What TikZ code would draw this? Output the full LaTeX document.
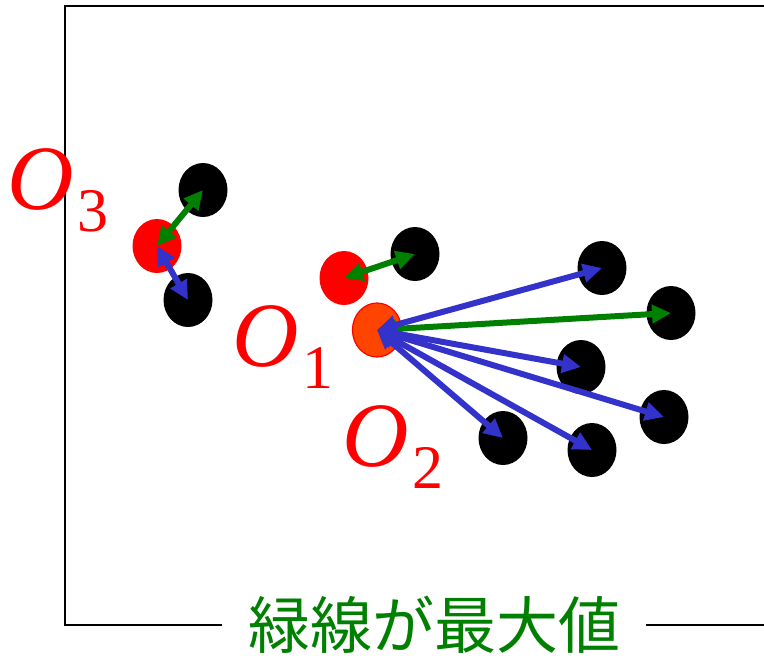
\documentclass[tikz,border=0pt]{standalone}
\usepackage{fontspec}
\setmainfont{Liberation Serif}
\newfontfamily\jpfont{Noto Sans CJK JP}
\newfontfamily\lblfont{Liberation Serif}
\usetikzlibrary{arrows.meta,shapes.geometric}
\definecolor{grn}{RGB}{0,128,0}
\definecolor{blu}{RGB}{51,51,204}
\definecolor{org}{RGB}{255,68,0}
\newcommand{\Olbl}[1]{{\lblfont\fontsize{92}{92}\selectfont\itshape O}\kern4pt\raisebox{-22pt}{\lblfont\fontsize{62}{62}\selectfont #1}}

\begin{document}
\begin{tikzpicture}[x=1pt, y=-1pt, >={Triangle[length=19pt,width=18pt]},
  dot/.style={ellipse, fill=black, minimum width=49pt, minimum height=54pt, inner sep=0pt},
  rdot/.style={dot, fill=red},
  lbl/.style={anchor=base west, inner sep=0pt, text=red},
  lnk/.style={<->, line width=6pt}]
  \useasboundingbox (0,0) rectangle (764,656);
  \draw[line width=2pt] (764,6) -- (65,6) -- (65,625) -- (764,625);
  \node[font=\jpfont\fontsize{62}{62}\selectfont, text=grn, fill=white, inner xsep=26pt, inner ysep=2pt] (cap) at (434,625) {緑線が最大値};

  \node[lbl] (l3) at (7,209) {\Olbl{3}};
  \node[lbl] (l1) at (232,366) {\Olbl{1}};
  \node[lbl] (l2) at (342,466) {\Olbl{2}};

  \node[dot] (p1) at (203,190) {};
  \node[dot] (p2) at (188,300) {};
  \node[dot] (p3) at (415,254) {};
  \node[dot] (p4) at (602,268) {};
  \node[dot] (p5) at (671,313) {};
  \node[dot] (p6) at (581,367) {};
  \node[dot] (p7) at (664,417) {};
  \node[dot] (p8) at (503,438) {};
  \node[dot] (p9) at (592,450) {};
  \node[rdot] (r3) at (157,246) {};
  \node[rdot] (r1) at (344,278) {};
  \node[rdot, fill=org, draw=red, line width=1.2pt] (r0) at (377,330) {};

  \draw[lnk, grn] (r3.center) -- (p1.center);
  \draw[lnk, blu] (r3.center) -- (p2.center);
  \draw[lnk, grn] (r1.center) -- (p3.center);
  \draw[lnk, grn] (r0.center) -- (p5.center);
  \foreach \p in {p4,p6,p7,p8,p9}
    \draw[lnk, blu] (r0.center) -- (\p.center);
\end{tikzpicture}
\end{document}
